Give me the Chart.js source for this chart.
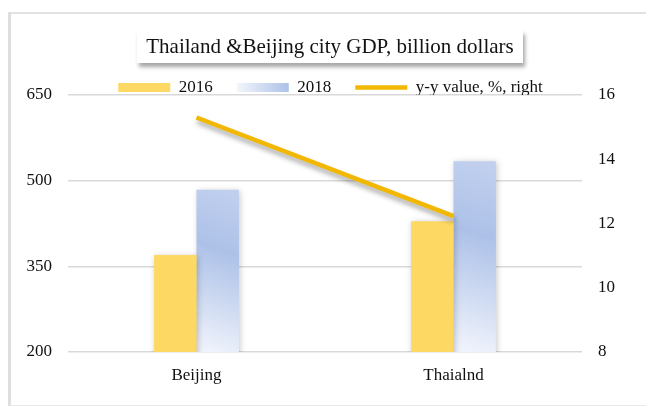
<!DOCTYPE html>
<html>
<head>
<meta charset="utf-8">
<script src="https://cdn.jsdelivr.net/npm/chart.js@4"></script>
<style>
    body { margin: 0; background: #fff; width: 646px; height: 409px; overflow: hidden; position: relative; }
    #frame {
        position: absolute; left: 8px; top: 12px; width: 640px; height: 391px;
        border-left: 3px solid #dedede; border-top: 2px solid #e2e2e2; border-bottom: 1px solid #e8e8e8;
    }
    #frame canvas { display: block; }
    #title {
        position: absolute; left: 137px; top: 30px; width: 386px; height: 33px;
        background: #fff; box-shadow: 2px 4px 4px rgba(0, 0, 0, 0.35);
        font: 21px "Liberation Serif", "Times New Roman", serif; color: #111;
        text-align: center; line-height: 33px; white-space: nowrap;
    }
</style>
</head>
<body>
<div id="frame"><canvas id="gdp" width="637" height="391"></canvas></div>
<div id="title">Thailand &amp;Beijing city GDP, billion dollars</div>
<script>
const categories = ['Beijing', 'Thaialnd'];
const gdp2016 = [370, 429];
const gdp2018 = [484, 534];
const yoy = [15.3, 12.23];
const leftTicks = [200, 350, 500, 650];
const rightTicks = [8, 10, 12, 14, 16];

const serif = '"Liberation Serif", "Times New Roman", serif';

window.onload = function () {
    const el = document.getElementById('gdp');

    // blue bars fade to white at the bottom-left corner
    function blueFill(ctx) {
        const chart = ctx.chart;
        if (!chart.chartArea || ctx.type !== 'data') return '#b4c6ea';
        const cx = chart.scales.x.getPixelForValue(ctx.dataIndex);
        const top = chart.scales.y.getPixelForValue(ctx.raw);
        const g = chart.ctx.createLinearGradient(cx, chart.chartArea.bottom, cx + 60, top);
        g.addColorStop(0, '#f2f5fc');
        g.addColorStop(0.6, '#adc1e8');
        g.addColorStop(1, '#c4d2ef');
        return g;
    }

    const shadows = {
        id: 'shadows',
        beforeDatasetDraw(chart, args) {
            const c = chart.ctx;
            c.save();
            if (args.meta.type === 'line') {
                c.shadowColor = 'rgba(0,0,0,0.35)';
                c.shadowBlur = 5;
                c.shadowOffsetX = 1;
                c.shadowOffsetY = 4;
            } else {
                c.shadowColor = 'rgba(0,0,0,0.22)';
                c.shadowBlur = 6;
                c.shadowOffsetX = 1;
                c.shadowOffsetY = 1;
            }
        },
        afterDatasetDraw(chart) {
            chart.ctx.restore();
        },
        beforeDraw(chart) {
            // gradient for the 2018 legend swatch
            const lg = chart.legend;
            if (!lg || !lg.legendHitBoxes || !lg.legendItems) return;
            lg.legendItems.forEach((item, i) => {
                if (item.datasetIndex !== 2) return;
                const hb = lg.legendHitBoxes[i];
                const g = chart.ctx.createLinearGradient(hb.left, 0, hb.left + 52, 0);
                g.addColorStop(0, '#f3f6fc');
                g.addColorStop(1, '#adc1e8');
                item.fillStyle = g;
            });
        }
    };

    new Chart(el, {
        type: 'bar',
        data: {
            labels: categories,
            datasets: [{
                type: 'line',
                label: 'y-y value, %, right',
                data: yoy,
                yAxisID: 'y1',
                borderColor: '#f2b700',
                backgroundColor: '#f2b700',
                borderWidth: 4.5,
                pointRadius: 0,
                pointStyle: 'line',
                order: 0
            }, {
                label: '2016',
                data: gdp2016,
                backgroundColor: '#fdd862',
                pointStyle: 'rect',
                order: 1
            }, {
                label: '2018',
                data: gdp2018,
                backgroundColor: blueFill,
                pointStyle: 'rect',
                order: 1
            }]
        },
        options: {
            responsive: false,
            animation: false,
            layout: { padding: { left: 16, right: 14, top: 41, bottom: 13 } },
            datasets: {
                bar: { categoryPercentage: 0.33, barPercentage: 1 }
            },
            plugins: {
                tooltip: { enabled: false },
                legend: {
                    position: 'top',
                    maxHeight: 40,
                    labels: {
                        usePointStyle: true,
                        pointStyleWidth: 52,
                        boxHeight: 9,
                        padding: 24,
                        color: '#111',
                        font: { family: serif, size: 17 },
                        sort: (a, b) => (a.datasetIndex || 3) - (b.datasetIndex || 3)
                    }
                }
            },
            scales: {
                x: {
                    afterFit: (s) => { s.height = 40; },
                    grid: { display: false },
                    border: { display: false },
                    ticks: { color: '#111', font: { family: serif, size: 17 }, padding: 5 }
                },
                y: {
                    min: 200,
                    max: 650,
                    afterBuildTicks: (s) => { s.ticks = leftTicks.map(v => ({ value: v })); },
                    afterFit: (s) => { s.width = 41; },
                    grid: { color: '#d9d9d9', lineWidth: 1.5, drawTicks: false },
                    border: { display: false },
                    ticks: { color: '#111', font: { family: serif, size: 17 }, padding: 16 }
                },
                y1: {
                    position: 'right',
                    min: 8,
                    max: 16,
                    afterBuildTicks: (s) => { s.ticks = rightTicks.map(v => ({ value: v })); },
                    afterFit: (s) => { s.width = 52; },
                    grid: { display: false, drawTicks: false },
                    border: { display: false },
                    ticks: { color: '#111', font: { family: serif, size: 17 }, padding: 16 }
                }
            }
        },
        plugins: [shadows]
    });
};
</script>
</body>
</html>
